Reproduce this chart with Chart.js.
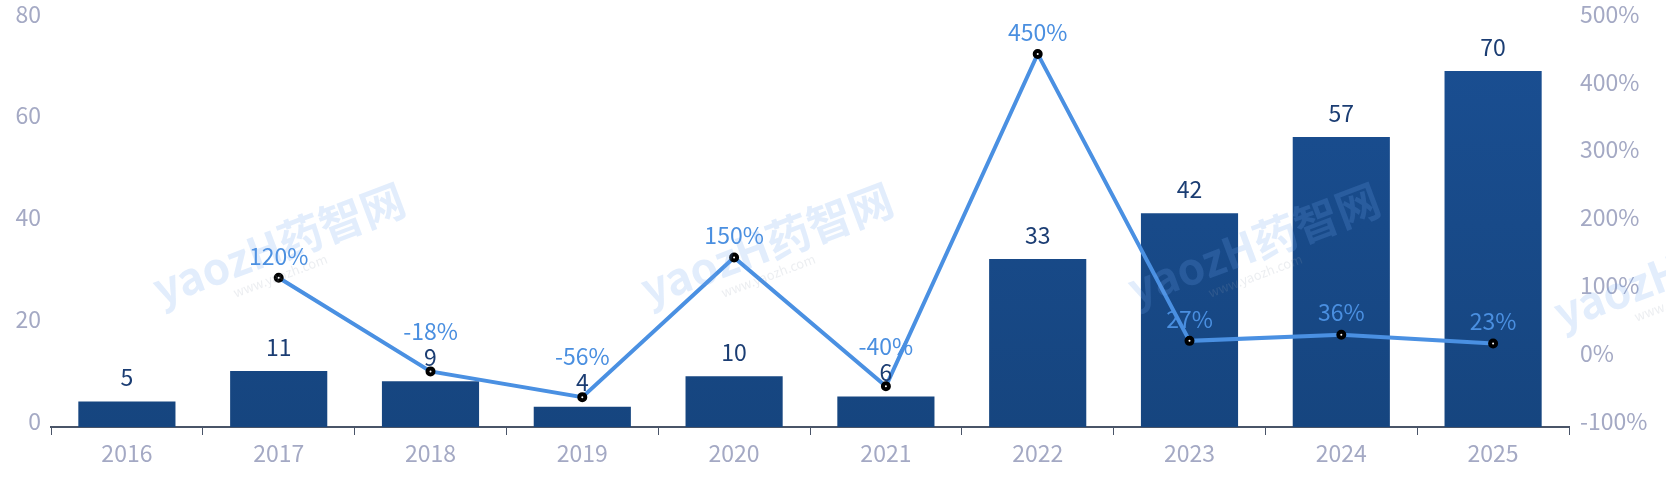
<!DOCTYPE html>
<html>
<head>
<meta charset="utf-8">
<script src="https://cdn.jsdelivr.net/npm/chart.js@4.4.0/dist/chart.umd.min.js"></script>
<style>
  html, body { margin: 0; padding: 0; background: #fff; }
  #wrap { width: 1666px; height: 498px; }
</style>
</head>
<body>
<div id="wrap"><canvas id="growthChart" width="1666" height="498"></canvas></div>
<script>
// chart data
const years = ['2016', '2017', '2018', '2019', '2020', '2021', '2022', '2023', '2024', '2025'];
const counts = [5, 11, 9, 4, 10, 6, 33, 42, 57, 70];
const growthRates = [null, 120, -18, -56, 150, -40, 450, 27, 36, 23];
const countTicks = [0, 20, 40, 60, 80];
const rateTicks = [-100, 0, 100, 200, 300, 400, 500];

const FONT = "'Noto Sans CJK SC', 'Noto Sans', sans-serif";
const AXIS_TEXT = '#A4A9C4';

// valeurs au-dessus des barres et des points
const valueLabels = {
    id: 'valueLabels',
    afterDatasetsDraw(chart) {
        const ctx = chart.ctx;
        const bars = chart.getDatasetMeta(0).data;
        ctx.save();
        ctx.textAlign = 'center';
        ctx.textBaseline = 'middle';
        ctx.font = '23px ' + FONT;

        bars.forEach((bar, i) => {
            ctx.fillStyle = '#1B3D73';
            ctx.fillText(counts[i], bar.x, bar.y - 24);
        });

        chart.getDatasetMeta(1).data.forEach((pt, i) => {
            if (growthRates[i] === null) return;
            let y = pt.y - 22;
            const barLabelY = bars[i].y - 24;
            // éviter le chevauchement avec l'étiquette de la barre
            if (Math.abs(y - barLabelY) < 26) {
                y = Math.min(y, barLabelY - 26);
            }
            ctx.fillStyle = '#4A8FE0';
            ctx.fillText(growthRates[i] + '%', pt.x, y);
        });
        ctx.restore();
    }
};

// filigrane
const watermark = {
    id: 'watermark',
    afterDraw(chart) {
        const ctx = chart.ctx;
        const spots = [[279, 244], [767, 244], [1254, 244], [1680, 268]];
        ctx.save();
        spots.forEach(([x, y]) => {
            ctx.save();
            ctx.translate(x, y);
            ctx.rotate(-0.36);
            ctx.textAlign = 'center';
            ctx.textBaseline = 'middle';
            ctx.fillStyle = 'rgba(110, 165, 240, 0.2)';
            ctx.font = 'bold 44px ' + FONT;
            ctx.fillText('yaozH药智网', 0, 0);
            ctx.fillStyle = 'rgba(150, 160, 180, 0.18)';
            ctx.font = '13px ' + FONT;
            ctx.fillText('www.yaozh.com', -10, 30);
            ctx.restore();
        });
        ctx.restore();
    }
};

function barGradient(context) {
    const area = context.chart.chartArea;
    if (!area) return '#184B8C';
    const g = context.chart.ctx.createLinearGradient(0, area.top, 0, area.bottom);
    g.addColorStop(0, '#1A4F93');
    g.addColorStop(1, '#16457F');
    return g;
}

function fixVertical(width) {
    return function(scale) {
        scale.width = width;
        scale.paddingTop = 0;
        scale.paddingBottom = 0;
    };
}

new Chart(document.getElementById('growthChart'), {
    type: 'bar',
    data: {
        labels: years,
        datasets: [{
            type: 'bar',
            data: counts,
            backgroundColor: barGradient,
            borderWidth: 0,
            barPercentage: 0.64,
            categoryPercentage: 1,
            yAxisID: 'y',
            order: 2
        }, {
            type: 'line',
            data: growthRates,
            borderColor: '#4A90E2',
            borderWidth: 4,
            tension: 0,
            pointRadius: 3,
            pointBorderWidth: 4,
            pointBorderColor: '#000',
            pointBackgroundColor: '#fff',
            yAxisID: 'y1',
            order: 1
        }]
    },
    options: {
        responsive: false,
        animation: false,
        devicePixelRatio: 1,
        layout: { padding: { top: 20, left: 0, right: 0, bottom: 0 } },
        plugins: {
            legend: { display: false },
            tooltip: { enabled: false }
        },
        scales: {
            x: {
                offset: true,
                grid: {
                    display: true,
                    drawOnChartArea: false,
                    drawTicks: true,
                    tickLength: 8,
                    color: '#4A5568',
                    lineWidth: 1
                },
                border: { display: true, color: '#4A5568', width: 2 },
                ticks: { color: AXIS_TEXT, font: { family: FONT, size: 23 }, padding: 4 },
                afterFit(scale) { scale.height = 71; }
            },
            y: {
                position: 'left',
                min: 0,
                max: 80,
                afterBuildTicks(scale) { scale.ticks = countTicks.map(v => ({ value: v })); },
                grid: { display: false, drawTicks: false },
                border: { display: false },
                ticks: { color: AXIS_TEXT, font: { family: FONT, size: 23 }, padding: 10, labelOffset: -6 },
                afterFit: fixVertical(51)
            },
            y1: {
                position: 'right',
                min: -100,
                max: 500,
                afterBuildTicks(scale) { scale.ticks = rateTicks.map(v => ({ value: v })); },
                grid: { display: false, drawTicks: false },
                border: { display: false },
                ticks: {
                    color: AXIS_TEXT,
                    font: { family: FONT, size: 23 },
                    padding: 11,
                    labelOffset: -6,
                    callback: v => v + '%'
                },
                afterFit: fixVertical(97)
            }
        }
    },
    plugins: [valueLabels, watermark]
});
</script>
</body>
</html>
